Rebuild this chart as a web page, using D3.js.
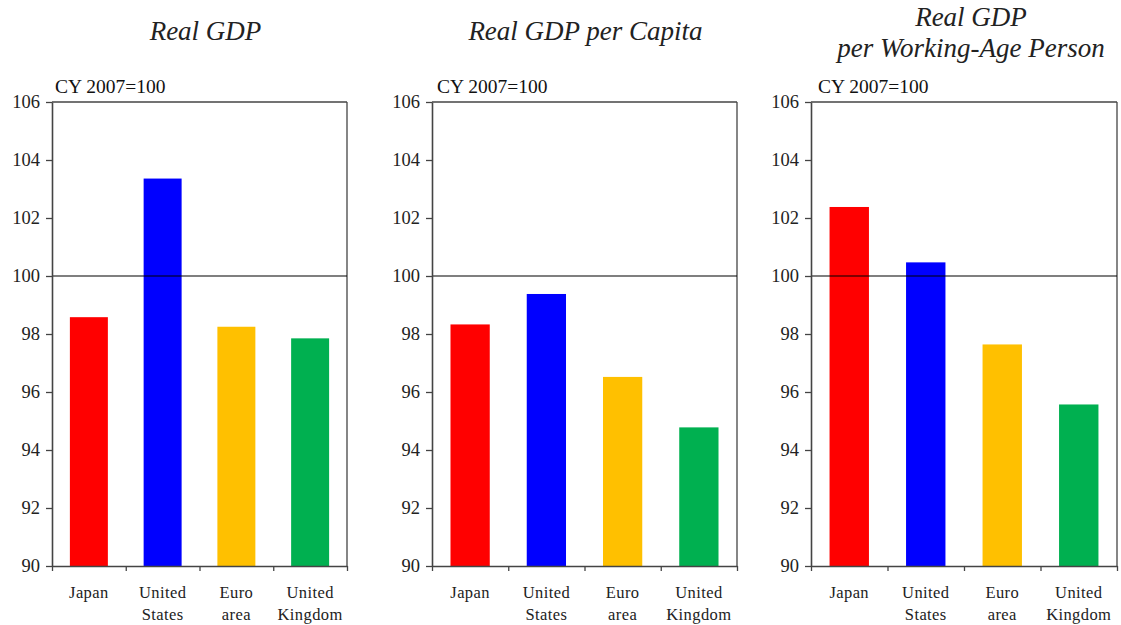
<!DOCTYPE html>
<html><head><meta charset="utf-8">
<script src="https://cdn.jsdelivr.net/npm/d3@7"></script>
<style>body{margin:0;background:#fff}svg{display:block}</style>
</head><body>
<svg id="c" width="1121" height="625"></svg>
<script>
const categories = [["Japan"], ["United","States"], ["Euro","area"], ["United","Kingdom"]];
const categoryKeys = ["Japan","United States","Euro area","United Kingdom"];
const colors = ["#FF0000","#0000FF","#FFC000","#00B050"];
const realGDP = [98.58, 103.36, 98.25, 97.85];
const realGDPperCapita = [98.33, 99.38, 96.52, 94.78];
const realGDPperWorkingAge = [102.38, 100.47, 97.64, 95.57];
const yTicks = [90, 92, 94, 96, 98, 100, 102, 104, 106];
const unitLabel = "CY 2007=100";
const panelTitles = [["Real GDP"], ["Real GDP per Capita"], ["Real GDP", "per Working-Age Person"]];
const panelValues = [realGDP, realGDPperCapita, realGDPperWorkingAge];

(function(){
const svg = d3.select("#c");
const FF = '"Liberation Serif"';
const panels = [{l:52,r:347,tdx:6,udx:3},{l:432,r:737,tdx:1,udx:5},{l:811,r:1117,tdx:7,udx:7}];
const plotTop = 102, plotBottom = 566;
const y = d3.scaleLinear().domain([90,106]).range([plotBottom, plotTop]);

panels.forEach((p, i) => {
  const g = svg.append("g");
  const x = d3.scaleBand().domain(categoryKeys).range([p.l, p.r]).paddingInner(0.485).paddingOuter(0.2425);
  g.selectAll("rect.bar").data(panelValues[i]).enter().append("rect")
    .attr("x", (d,j) => x(categoryKeys[j]))
    .attr("width", x.bandwidth())
    .attr("y", d => y(d))
    .attr("height", d => y(90) - y(d))
    .attr("fill", (d,j) => colors[j]);
  g.append("line").attr("x1", p.l).attr("x2", p.r).attr("y1", plotTop).attr("y2", plotTop)
    .attr("stroke", "#444").attr("stroke-width", 1.3);
  g.append("line").attr("x1", p.r).attr("x2", p.r).attr("y1", plotTop).attr("y2", plotBottom)
    .attr("stroke", "#444").attr("stroke-width", 1.3);
  g.append("line").attr("x1", p.l).attr("x2", p.r).attr("y1", y(100)).attr("y2", y(100))
    .attr("stroke", "#000").attr("stroke-width", 1.2);
  const ya = g.append("g").attr("transform", `translate(${p.l},0)`)
    .call(d3.axisLeft(y).tickValues(yTicks).tickSize(6).tickPadding(6).tickSizeOuter(0));
  ya.attr("font-family", null);
  ya.select(".domain").attr("stroke", "#444").attr("stroke-width", 1.6);
  ya.selectAll(".tick line").attr("stroke", "#444").attr("stroke-width", 1.3);
  ya.selectAll(".tick text").style("font-family", FF).style("font-size", "18.5px").attr("fill", "#222");
  const xb = d3.scaleLinear().domain([0,4]).range([p.l, p.r]);
  const xa = g.append("g").attr("transform", `translate(0,${plotBottom})`)
    .call(d3.axisBottom(xb).tickValues([0,1,2,3,4]).tickSize(5).tickFormat("").tickSizeOuter(0));
  xa.select(".domain").attr("stroke", "#444").attr("stroke-width", 1.6);
  xa.selectAll(".tick line").attr("stroke", "#444").attr("stroke-width", 1.3);
  categories.forEach((lines, j) => {
    const cxb = x(categoryKeys[j]) + x.bandwidth()/2;
    const t = g.append("text").attr("x", cxb).attr("y", 598)
      .attr("text-anchor", "middle").style("font-family", FF).style("font-size", "16.5px")
      .style("letter-spacing", "0.4px").attr("fill", "#222");
    lines.forEach((ln, k) => t.append("tspan").attr("x", cxb)
      .attr("dy", k === 0 ? 0 : 22).text(ln));
  });
  g.append("text").attr("x", p.l + p.udx).attr("y", 93).style("font-family", FF)
    .style("font-size", "19.5px").attr("fill", "#111").text(unitLabel);
  const tl = panelTitles[i];
  const cx = (p.l + p.r)/2 + p.tdx;
  const t0 = tl.length === 1 ? 40 : 26;
  tl.forEach((ln, k) => g.append("text").attr("x", cx).attr("y", t0 + k*31)
    .attr("text-anchor", "middle").style("font-family", FF).style("font-style", "italic")
    .style("font-size", "27px").attr("fill", "#222").text(ln));
});
})();
</script>
</body></html>
